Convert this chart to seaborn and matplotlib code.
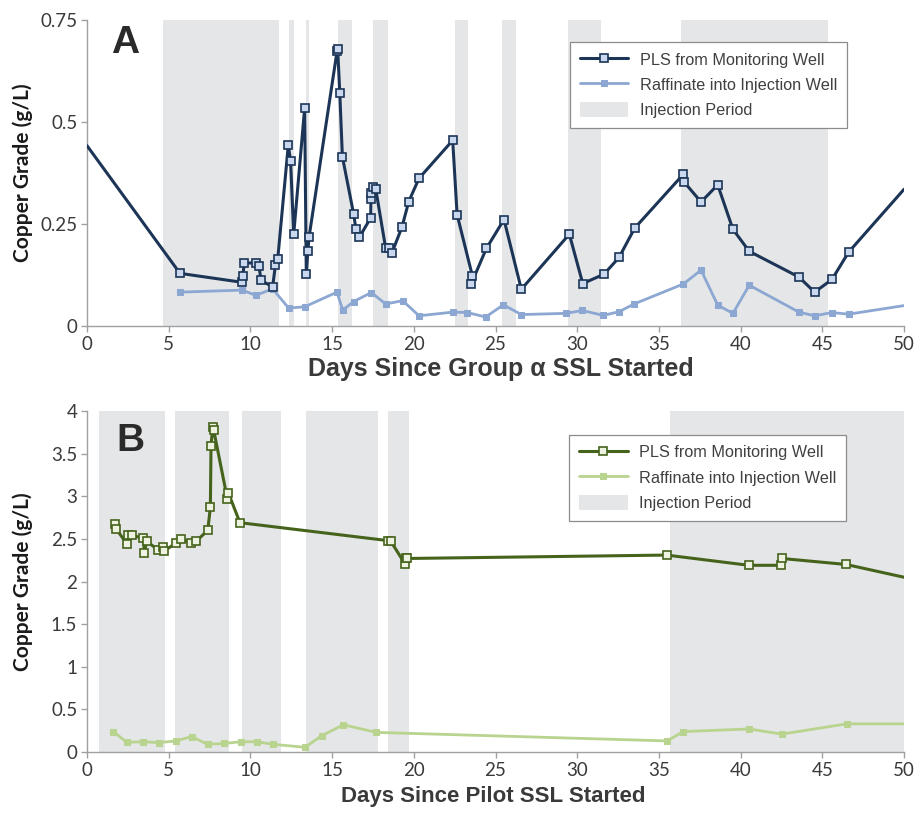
import numpy as np
import pandas as pd
import seaborn as sns
import matplotlib
matplotlib.use("Agg")
import matplotlib.pyplot as plt
from matplotlib.patches import Patch
from matplotlib.ticker import FuncFormatter

# ---------------- Panel A data ----------------
a_pls_day = [0.0, 5.69, 9.51, 9.53, 9.63, 10.32, 10.52, 10.65, 11.36, 11.53, 11.67,
             12.32, 12.46, 12.65, 13.32, 13.42, 13.52, 13.59, 15.30, 15.34, 15.47,
             15.63, 16.32, 16.46, 16.66, 17.36, 17.38, 17.40, 17.50, 17.67, 18.28,
             18.48, 18.67, 19.28, 19.69, 20.32, 22.38, 22.65, 23.59, 23.52, 24.44,
             25.52, 26.58, 29.52, 30.34, 31.64, 32.56, 33.52, 36.50, 36.52, 37.58,
             38.60, 39.53, 40.53, 43.57, 44.53, 45.59, 46.61, 50.0]
a_pls_cu = [0.442, 0.129, 0.107, 0.123, 0.154, 0.155, 0.148, 0.112, 0.096, 0.149, 0.163,
            0.444, 0.404, 0.225, 0.534, 0.127, 0.185, 0.218, 0.673, 0.680, 0.571,
            0.415, 0.274, 0.237, 0.217, 0.265, 0.312, 0.325, 0.340, 0.336, 0.190,
            0.190, 0.180, 0.243, 0.305, 0.362, 0.455, 0.273, 0.122, 0.104, 0.190,
            0.261, 0.090, 0.225, 0.104, 0.127, 0.168, 0.240, 0.372, 0.354, 0.304,
            0.346, 0.237, 0.183, 0.120, 0.083, 0.114, 0.181, 0.335]

a_raf_day = [5.69, 9.51, 10.32, 11.36, 12.34, 13.32, 15.30, 15.65, 16.32, 17.40,
             18.28, 19.32, 20.32, 22.38, 23.28, 24.40, 25.48, 26.58, 29.32, 30.31,
             31.60, 32.56, 33.48, 36.50, 37.58, 38.60, 39.53, 40.53, 43.57, 44.53,
             45.59, 46.61, 50.0]
a_raf_cu = [0.083, 0.088, 0.075, 0.091, 0.044, 0.047, 0.083, 0.039, 0.060, 0.082,
            0.054, 0.062, 0.025, 0.034, 0.033, 0.022, 0.052, 0.028, 0.031, 0.038,
            0.026, 0.035, 0.054, 0.103, 0.137, 0.051, 0.031, 0.100, 0.034, 0.025,
            0.033, 0.029, 0.050]

a_inj_start = [4.63, 12.36, 13.40, 15.34, 17.52, 22.52, 25.42, 29.45, 36.33]
a_inj_end = [11.75, 12.65, 13.57, 16.24, 18.44, 23.34, 26.24, 31.46, 45.37]

# ---------------- Panel B data ----------------
b_pls_day = [1.71, 1.77, 2.45, 2.49, 2.73, 3.45, 3.51, 3.65, 4.37, 4.67, 4.73,
             5.45, 5.75, 6.34, 6.67, 7.39, 7.55, 7.59, 7.69, 7.75, 8.59, 8.65,
             9.36, 18.40, 18.60, 19.48, 19.52, 19.60, 35.47, 40.50, 42.50, 42.52,
             46.45, 50.0]
b_pls_cu = [2.67, 2.62, 2.44, 2.545, 2.54, 2.51, 2.34, 2.47, 2.37, 2.40, 2.36,
            2.45, 2.50, 2.45, 2.47, 2.60, 2.87, 3.59, 3.81, 3.78, 2.97, 3.04,
            2.69, 2.48, 2.47, 2.20, 2.28, 2.27, 2.31, 2.19, 2.19, 2.27,
            2.20, 2.05]

b_raf_day = [1.61, 2.43, 3.45, 4.41, 5.43, 6.41, 7.39, 8.40, 9.42, 10.38, 11.40,
             13.34, 14.36, 15.69, 17.69, 35.50, 36.50, 40.51, 42.53, 46.49, 50.0]
b_raf_cu = [0.24, 0.114, 0.12, 0.11, 0.13, 0.18, 0.09, 0.10, 0.12, 0.12, 0.09,
            0.055, 0.19, 0.32, 0.23, 0.13, 0.24, 0.27, 0.21, 0.33, 0.33]

b_inj_start = [0.72, 5.41, 9.49, 13.41, 18.41, 35.70]
b_inj_end = [4.78, 8.70, 11.86, 17.82, 19.72, 50.0]

legend_labels = ["PLS from Monitoring Well", "Raffinate into Injection Well", "Injection Period"]

# ---------------- Styling ----------------
sns.set_theme(style="ticks")
plt.rcParams["font.family"] = ["Liberation Sans", "DejaVu Sans"]

W, H = 916, 813
fig = plt.figure(figsize=(W / 100, H / 100), dpi=100)
axA = fig.add_axes([87 / W, 1 - 326 / H, 817 / W, 306 / H])
axB = fig.add_axes([87 / W, 1 - 752 / H, 817 / W, 341 / H])

SHADE = "#e5e6e8"
SPINE = "#a0a0a0"
TXT = "#3a3a3a"
TICKFONT = "Lato"


def draw_panel(ax, pls_x, pls_y, raf_x, raf_y, inj_s, inj_e, pls_col, pls_face,
               raf_col, ylim, yticks, ylabel, xlabel, xlabel_size, xlabel_xy, letter,
               leg_xy, letter_xy, pls_mark, raf_mark):
    for s, e in zip(inj_s, inj_e):
        ax.axvspan(s, e, color=SHADE, lw=0, zorder=0)
    df_p = pd.DataFrame({"day": pls_x, "cu": pls_y})
    df_r = pd.DataFrame({"day": raf_x, "cu": raf_y})
    sns.lineplot(data=df_r, x="day", y="cu", ax=ax, sort=False, estimator=None,
                 color=raf_col, lw=2.0, marker="s", markersize=5.0,
                 markeredgecolor=raf_col, markerfacecolor=raf_col,
                 markevery=raf_mark, zorder=3)
    sns.lineplot(data=df_p, x="day", y="cu", ax=ax, sort=False, estimator=None,
                 color=pls_col, lw=2.2, marker="s", markersize=6.2,
                 markeredgecolor=pls_col, markerfacecolor=pls_face,
                 markeredgewidth=1.2, markevery=pls_mark, zorder=4)
    ax.set_xlim(0, 50)
    ax.set_ylim(*ylim)
    ax.set_xticks(np.arange(0, 51, 5))
    ax.set_yticks(yticks)
    ax.yaxis.set_major_formatter(FuncFormatter(lambda v, p: f"{v:g}"))
    for side in ["top", "right"]:
        ax.spines[side].set_visible(False)
    for side in ["left", "bottom"]:
        ax.spines[side].set_color(SPINE)
        ax.spines[side].set_linewidth(1.0)
    ax.tick_params(axis="both", colors=SPINE, length=4, width=1.0, direction="out",
                   labelcolor=TXT, labelsize=13.5, pad=3)
    for lab in ax.get_xticklabels() + ax.get_yticklabels():
        lab.set_fontfamily(TICKFONT)
    ax.set_xlabel(xlabel, fontsize=xlabel_size, fontweight="bold", color=TXT)
    ax.xaxis.set_label_coords(*xlabel_xy)
    ax.set_ylabel(ylabel, fontsize=15, fontweight="bold", color="#1a1a1a",
                  family=TICKFONT)
    ax.yaxis.set_label_coords(-0.066, 0.5)
    ax.text(letter_xy[0], letter_xy[1], letter, transform=ax.transAxes,
            fontsize=28, fontweight="bold", color="#2a2a2a", ha="left", va="top")
    lines = ax.get_lines()
    handles = [lines[-1], lines[-2], Patch(facecolor=SHADE, edgecolor="none")]
    leg = ax.legend(handles, legend_labels, loc="upper left", bbox_to_anchor=leg_xy,
                    frameon=True, fancybox=False, framealpha=1, edgecolor="#8c8c8c",
                    fontsize=11.7, handlelength=3.0, handleheight=1.0,
                    borderpad=0.6, labelspacing=0.58, handletextpad=0.7,
                    borderaxespad=0)
    leg.get_frame().set_linewidth(0.9)
    for t in leg.get_texts():
        t.set_color("#404040")
    for h in leg.legend_handles[:2]:
        h.set_markevery([1])


draw_panel(axA, a_pls_day, a_pls_cu, a_raf_day, a_raf_cu, a_inj_start, a_inj_end,
           "#1c3557", "#c9d8ee", "#8ba7d2", (0, 0.75), [0, 0.25, 0.5, 0.75],
           "Copper Grade (g/L)", "Days Since Group \u03b1 SSL Started", 18,
           (0.507, -0.100), "A", (0.591, 0.928), (0.030, 0.985),
           list(range(1, len(a_pls_day) - 1)), list(range(0, len(a_raf_day) - 1)))

draw_panel(axB, b_pls_day, b_pls_cu, b_raf_day, b_raf_cu, b_inj_start, b_inj_end,
           "#46631c", "#edf3e0", "#b8d48e", (0, 4), np.arange(0, 4.01, 0.5),
           "Copper Grade (g/L)", "Days Since Pilot SSL Started", 16,
           (0.497, -0.100), "B", (0.590, 0.930), (0.036, 0.965),
           list(range(0, len(b_pls_day) - 1)), list(range(0, len(b_raf_day) - 1)))

fig.savefig("out.png", dpi=100)
